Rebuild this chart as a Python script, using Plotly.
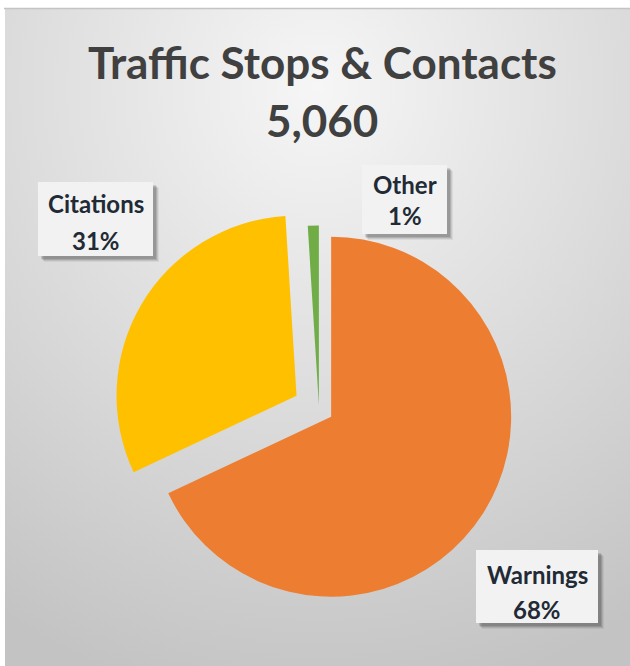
import base64
import plotly.graph_objects as go

# ---- data ----
categories = ["Warnings", "Citations", "Other"]
counts = [3441, 1569, 50]
colors = ["#ED7D31", "#FFC000", "#70AD47"]
pulls = [0.08, 0.145, 0.02]
title_text = "Traffic Stops & Contacts"

total = sum(counts)
pcts = [round(100 * c / total) for c in counts]

W, H = 630, 666

def px(x):
    return x / W

def py(y):
    return 1 - y / H

fig = go.Figure()

# pie geometry (pixels)
cx, cy, r = 319, 409, 180
R = r * (1 + max(pulls))
fig.add_trace(go.Pie(
    labels=categories, values=counts, sort=False, direction="clockwise",
    rotation=0, pull=pulls, marker=dict(colors=colors, line=dict(width=0)),
    textinfo="none", hoverinfo="label+percent", showlegend=False,
    domain=dict(x=[px(cx - R), px(cx + R)], y=[py(cy + R), py(cy - R)]),
))

# background gradient
svg = ("<svg xmlns='http://www.w3.org/2000/svg' width='625' height='657' viewBox='0 0 625 657' "
       "preserveAspectRatio='none'><defs><radialGradient id='g' cx='0.5' cy='0.12' r='0.95' "
       "gradientUnits='objectBoundingBox'><stop offset='0' stop-color='#f6f6f6'/>"
       "<stop offset='0.55' stop-color='#dadada'/><stop offset='1' stop-color='#c3c3c3'/>"
       "</radialGradient></defs><rect width='625' height='657' fill='url(#g)'/></svg>")
src = "data:image/svg+xml;base64," + base64.b64encode(svg.encode()).decode()
fig.add_layout_image(dict(source=src, xref="paper", yref="paper", x=px(5), y=py(9),
                          sizex=px(625), sizey=657 / H, sizing="stretch",
                          xanchor="left", yanchor="top", layer="below"))

shapes = [dict(type="line", xref="paper", yref="paper", x0=px(4), x1=1, y0=py(8.5), y1=py(8.5),
               line=dict(color="#c4c4c4", width=1.5))]

annotations = [
    dict(text="<b>" + title_text + "</b>", x=px(322), y=py(62), font=dict(size=44, color="#404040")),
    dict(text="<b>" + f"{total:,}" + "</b>", x=px(322), y=py(120), font=dict(size=44, color="#404040")),
]

# label boxes: (x0, y0, x1, y1, line1_y, line2_y)
boxes = {
    "Citations": (38, 182, 153, 256, 203, 240),
    "Other": (362, 165, 447, 234, 184, 215),
    "Warnings": (476, 550, 598, 623, 574, 609),
}
for name, pct in zip(categories, pcts):
    x0, y0, x1, y1, l1, l2 = boxes[name]
    for off, alpha in [(6, 0.06), (5, 0.08), (4, 0.12), (3, 0.12)]:
        shapes.append(dict(type="rect", xref="paper", yref="paper", layer="above",
                           x0=px(x0 + off), x1=px(x1 + off), y0=py(y0 + off), y1=py(y1 + off),
                           fillcolor=f"rgba(0,0,0,{alpha})", line=dict(width=0)))
    shapes.append(dict(type="rect", xref="paper", yref="paper", layer="above",
                       x0=px(x0), x1=px(x1), y0=py(y0), y1=py(y1),
                       fillcolor="#f2f2f2", line=dict(width=0)))
    xm = (x0 + x1) / 2
    annotations.append(dict(text="<b>" + name + "</b>", x=px(xm), y=py(l1),
                            font=dict(size=24, color="#222a35")))
    annotations.append(dict(text=f"<b>{pct}%</b>", x=px(xm), y=py(l2),
                            font=dict(size=24, color="#222a35")))

for a in annotations:
    a.update(xref="paper", yref="paper", showarrow=False, xanchor="center", yanchor="middle")

fig.update_layout(
    width=W, height=H, margin=dict(l=0, r=0, t=0, b=0),
    paper_bgcolor="white", plot_bgcolor="rgba(0,0,0,0)",
    font=dict(family="Lato, 'Open Sans', sans-serif"),
    shapes=shapes, annotations=annotations,
)

fig.write_html("out.html", config={"displayModeBar": False},
               post_script="document.body.style.margin='0px';")
